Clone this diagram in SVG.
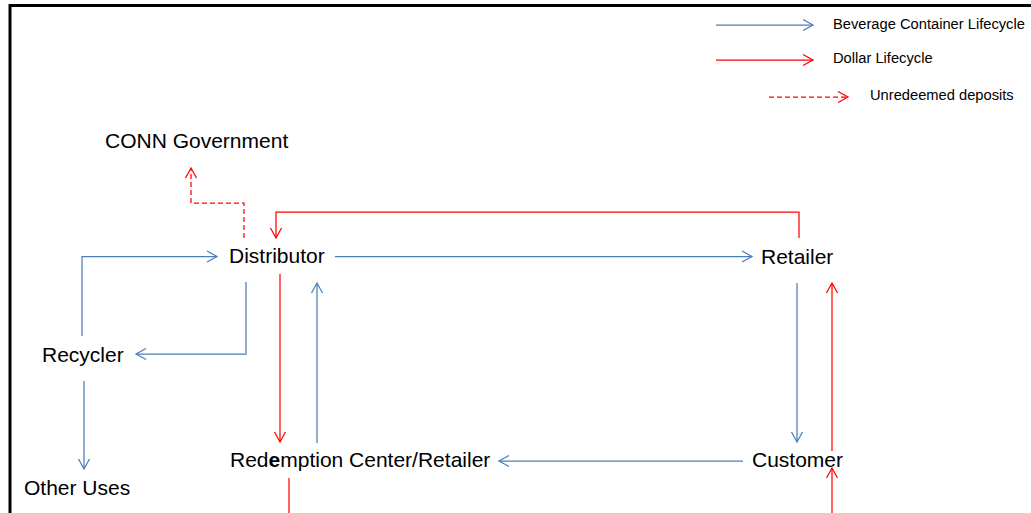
<svg xmlns="http://www.w3.org/2000/svg" width="1031" height="513" viewBox="0 0 1031 513">
<style>
.lbl{font-family:"Liberation Sans",Arial,sans-serif;font-size:21px;fill:#000}
.leg{font-family:"Liberation Sans",Arial,sans-serif;font-size:14.7px;fill:#000}
.b{fill:none;stroke:#4a7ebb;stroke-width:1.25}
.r{fill:none;stroke:#ff0000;stroke-width:1.25}
.rd{fill:none;stroke:#ff0000;stroke-width:1.25;stroke-dasharray:5,3}
</style>
<defs>
<marker id="ab" markerUnits="userSpaceOnUse" markerWidth="14" markerHeight="14" refX="10" refY="6" orient="auto" overflow="visible">
<path d="M0,0.5 L10,6 L0,11.5" fill="none" stroke="#4a7ebb" stroke-width="1.25"/>
</marker>
<marker id="ar" markerUnits="userSpaceOnUse" markerWidth="14" markerHeight="14" refX="10" refY="6" orient="auto" overflow="visible">
<path d="M0,0.5 L10,6 L0,11.5" fill="none" stroke="#ff0000" stroke-width="1.25"/>
</marker>
</defs>
<rect x="0" y="0" width="1031" height="513" fill="#fff"/>
<rect x="10" y="5.5" width="1200" height="700" fill="none" stroke="#000" stroke-width="3"/>
<g id="legend">
<line class="b" x1="716" y1="25" x2="813" y2="25" marker-end="url(#ab)"/>
<text class="leg" x="833" y="29">Beverage Container Lifecycle</text>
<line class="r" x1="716" y1="60" x2="813" y2="60" marker-end="url(#ar)"/>
<text class="leg" x="833" y="63">Dollar Lifecycle</text>
<line class="rd" x1="769" y1="97" x2="848" y2="97" marker-end="url(#ar)"/>
<text class="leg" x="870" y="100">Unredeemed deposits</text>
</g>
<g id="connectors">
<polyline class="rd" points="244,238 244,203 191,203 191,168" marker-end="url(#ar)"/>
<polyline class="r" points="799,238 799,212 276,212 276,238" marker-end="url(#ar)"/>
<line class="b" x1="335" y1="256.5" x2="752" y2="256.5" marker-end="url(#ab)"/>
<polyline class="b" points="82,336 82,256.5 217,256.5" marker-end="url(#ab)"/>
<polyline class="b" points="246,282 246,354 136,354" marker-end="url(#ab)"/>
<line class="b" x1="84" y1="381" x2="84" y2="469" marker-end="url(#ab)"/>
<line class="r" x1="280" y1="274" x2="280" y2="442" marker-end="url(#ar)"/>
<line class="b" x1="317" y1="443" x2="317" y2="283" marker-end="url(#ab)"/>
<line class="r" x1="289" y1="478" x2="289" y2="520"/>
<line class="b" x1="743" y1="461" x2="499" y2="461" marker-end="url(#ab)"/>
<line class="b" x1="797" y1="283" x2="797" y2="442" marker-end="url(#ab)"/>
<line class="r" x1="832" y1="451" x2="832" y2="283" marker-end="url(#ar)"/>
<line class="r" x1="832" y1="520" x2="832" y2="468" marker-end="url(#ar)"/>
</g>
<g id="conn-government"><text class="lbl" x="105" y="148">CONN Government</text></g>
<g id="distributor"><text class="lbl" x="229" y="263">Distributor</text></g>
<g id="retailer"><text class="lbl" x="761" y="264">Retailer</text></g>
<g id="recycler"><text class="lbl" x="42" y="362">Recycler</text></g>
<g id="other-uses"><text class="lbl" x="24" y="495">Other Uses</text></g>
<g id="redemption"><text class="lbl" x="230" y="467">Red<tspan font-weight="bold">e</tspan>mption Center/Retailer</text></g>
<g id="customer"><text class="lbl" x="752" y="467">Customer</text></g>
</svg>
